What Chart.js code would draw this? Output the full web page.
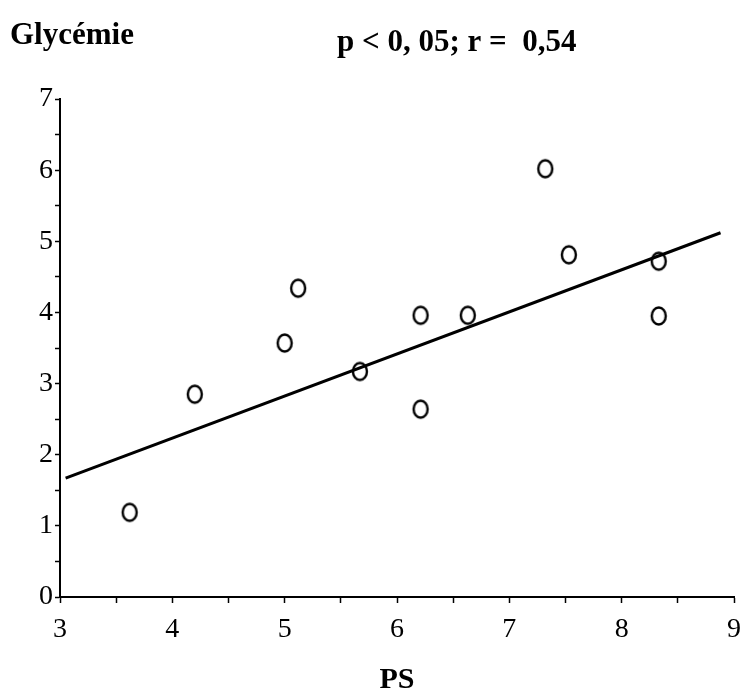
<!DOCTYPE html>
<html>
<head>
<meta charset="utf-8">
<script src="https://cdn.jsdelivr.net/npm/chart.js@4"></script>
<style>
  body { margin: 0; background: #fff; }
  #wrap { width: 751px; height: 699px; }
</style>
</head>
<body>
<div id="wrap"><canvas id="psChart" width="751" height="699"></canvas></div>
<script>
// values
const psValues   = [3.62, 4.20, 5.00, 5.12, 5.67, 6.21, 6.21, 6.63, 7.32, 7.53, 8.33, 8.33];
const glycValues = [1.19, 2.85, 3.57, 4.34, 3.17, 3.96, 2.64, 3.96, 6.02, 4.81, 4.72, 3.95];
// regression line ends
const fitX = [3.05, 8.88];
const fitY = [1.67, 5.12];
// axes
const xRange = [3, 9];
const yRange = [0, 7];
const yTitle = "Glycémie";
const xTitle = "PS";
const statsText = "p < 0, 05; r =  0,54";

const serif = "'Liberation Serif', 'Times New Roman', serif";

let points = [];
for (var i = 0; i < psValues.length; i++) {
    points.push({ x: psValues[i], y: glycValues[i] });
}
let fitLine = [];
for (var j = 0; j < fitX.length; j++) {
    fitLine.push({ x: fitX[j], y: fitY[j] });
}

// the markers in the scan are slightly tall ellipses
makeMarker = () => {
    var m = document.createElement('canvas');
    m.width = 20;
    m.height = 24;
    var g = m.getContext('2d');
    g.lineWidth = 2.4;
    g.strokeStyle = '#000';
    g.beginPath();
    g.ellipse(10, 12, 7, 8.5, 0, 0, Math.PI * 2);
    g.stroke();
    return m;
};

// texts over the plot
const headerText = {
    id: 'headerText',
    afterDraw(chart) {
        const c = chart.ctx;
        c.save();
        c.fillStyle = '#000';
        c.textBaseline = 'alphabetic';
        c.font = "bold 31px " + serif;
        c.fillText(yTitle, 10, 44);
        c.fillText(statsText, 337, 51);
        c.restore();
    }
};

const intLabel = v => (Number.isInteger(v) ? v : '');

var ctx = document.getElementById("psChart").getContext('2d');
var psChart = new Chart(ctx, {
    type: 'scatter',
    data: {
        datasets: [{
            label: "Patients",
            data: points,
            pointStyle: makeMarker(),
            pointRadius: 8,
            showLine: false,
            order: 1
        },
        {
            label: "Régression",
            data: fitLine,
            showLine: true,
            borderColor: '#000',
            borderWidth: 3,
            pointRadius: 0,
            order: 2
        }]
    },
    options: {
        responsive: false,
        animation: false,
        layout: { padding: { top: 99, right: 14, left: 0, bottom: 0 } },
        plugins: {
            legend: { display: false },
            tooltip: { enabled: false }
        },
        scales: {
            x: {
                type: 'linear',
                min: xRange[0],
                max: xRange[1],
                border: { color: '#000', width: 2 },
                grid: { drawOnChartArea: false, color: '#000', tickLength: 6, tickWidth: 1.5 },
                ticks: {
                    stepSize: 0.5,
                    autoSkip: false,
                    maxRotation: 0,
                    padding: 10,
                    color: '#000',
                    font: { family: serif, size: 28 },
                    callback: intLabel
                },
                title: {
                    display: true,
                    text: xTitle,
                    color: '#000',
                    font: { family: serif, size: 30, weight: 'bold' },
                    padding: { top: 0, bottom: 1 }
                },
                afterFit: s => { s.height = 102; }
            },
            y: {
                type: 'linear',
                min: yRange[0],
                max: yRange[1],
                border: { color: '#000', width: 2 },
                grid: { drawOnChartArea: false, color: '#000', tickLength: 5, tickWidth: 1.5 },
                ticks: {
                    stepSize: 0.5,
                    autoSkip: false,
                    padding: 2,
                    color: '#000',
                    font: { family: serif, size: 28 },
                    callback: intLabel
                },
                afterFit: s => { s.width = 60; }
            }
        }
    },
    plugins: [headerText]
});
</script>
</body>
</html>
